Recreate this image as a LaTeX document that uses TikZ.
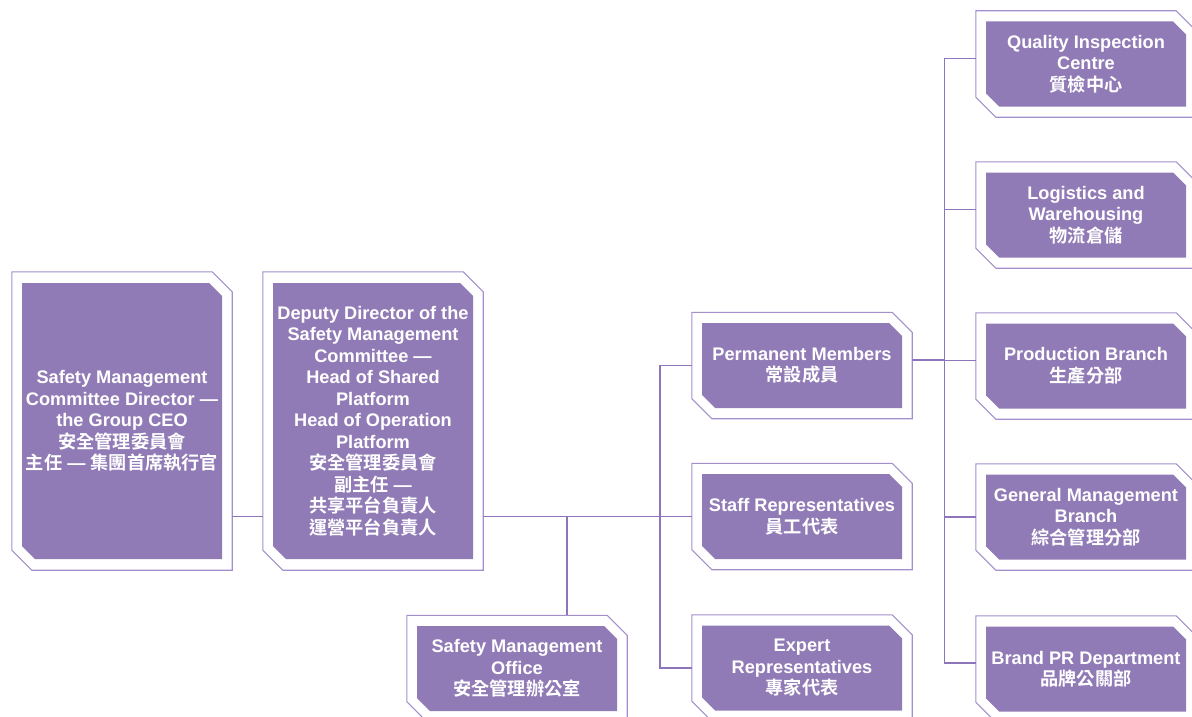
\documentclass[tikz,border=0pt]{standalone}
\usepackage{fontspec}
\setmainfont{Liberation Sans}
\newfontfamily\cjk{Noto Sans CJK TC}[BoldFont={* Bold}]
\usetikzlibrary{positioning}

\definecolor{boxfill}{HTML}{917BB6}
\definecolor{framecol}{HTML}{A28FCB}
\definecolor{linecol}{HTML}{8E74B8}

% corner-cut outline of a box, #1 = node, #2 = cut
\newcommand\cutcorners[2]{(#1.north west) -- ([xshift=-#2]#1.north east) -- ([yshift=-#2]#1.north east) -- (#1.south east) -- ([xshift=#2]#1.south west) -- ([yshift=#2]#1.south west) -- cycle}

\begin{document}
\begin{tikzpicture}[x=1pt,y=-1pt,
  unit/.style={rectangle,inner sep=0pt,minimum width=200pt,minimum height=#1,
    path picture={\fill[boxfill] \cutcorners{path picture bounding box}{13pt};},
    align=center,text=white,font=\bfseries\fontsize{18.2}{21.5}\selectfont},
  unit/.default=85pt,
  frame/.style={rectangle,inner sep=0pt,minimum width=220pt,minimum height=#1},
  frame/.default=106pt,
  outline/.style={draw=framecol,line width=1.1pt},
  link/.style={draw=linecol,line width=1.8pt}]

\useasboundingbox (0,0) rectangle (1192,717);

% committee heads
\node[unit=276pt] (dir) at (122,421) {Safety Management\\Committee Director —\\the Group CEO\\{\cjk 安全管理委員會}\\{\cjk 主任} — {\cjk 集團首席執行官}};
\node[frame=298pt] (dir-f) at (dir) {};
\node[unit=276pt] (dep) at (373,421) {Deputy Director of the\\Safety Management\\Committee —\\Head of Shared\\Platform\\Head of Operation\\Platform\\{\cjk 安全管理委員會}\\{\cjk 副主任} —\\{\cjk 共享平台負責人}\\{\cjk 運營平台負責人}};
\node[frame=298pt] (dep-f) at (dep) {};

% office and members
\node[unit] (office) at (517,668.5) {Safety Management\\Office\\{\cjk 安全管理辦公室}};
\node[frame] (office-f) at (office) {};
\node[unit] (perm) at (802,365.5) {Permanent Members\\{\cjk 常設成員}};
\node[frame] (perm-f) at (perm) {};
\node[unit] (staff) at (802,516.5) {Staff Representatives\\{\cjk 員工代表}};
\node[frame] (staff-f) at (staff) {};
\node[unit] (expert) at (802,668) {Expert\\Representatives\\{\cjk 專家代表}};
\node[frame] (expert-f) at (expert) {};

% branches
\node[unit] (qual) at (1086,64) {Quality Inspection\\Centre\\{\cjk 質檢中心}};
\node[frame] (qual-f) at (qual) {};
\node[unit] (logi) at (1086,215) {Logistics and\\Warehousing\\{\cjk 物流倉儲}};
\node[frame] (logi-f) at (logi) {};
\node[unit] (prod) at (1086,366) {Production Branch\\{\cjk 生產分部}};
\node[frame] (prod-f) at (prod) {};
\node[unit] (gen) at (1086,517) {General Management\\Branch\\{\cjk 綜合管理分部}};
\node[frame] (gen-f) at (gen) {};
\node[unit] (brand) at (1086,669) {Brand PR Department\\{\cjk 品牌公關部}};
\node[frame] (brand-f) at (brand) {};

\foreach \b in {dir,dep,office,perm,staff,expert,qual,logi,prod,gen,brand}
  \draw[outline] \cutcorners{\b-f}{20pt};

% connectors
\coordinate (bus) at (660,516.5);
\coordinate (drop) at (567,516.5);
\coordinate (rbus) at (944.5,360);

\draw[link] (dir-f.east |- staff-f) -- (dep-f.west |- staff-f);
\draw[link] (dep-f.east |- staff-f) -- (staff-f.west);
\draw[link] (drop) -- (drop |- office-f.north);
\draw[link] (perm-f.west) -| (bus) |- (expert-f.west);

\draw[link] ([yshift=5.5pt]perm-f.east) -- (rbus);
\draw[link] ([yshift=5.5pt]qual-f.west) -| (rbus) |- ([yshift=6pt]brand-f.west);
\draw[link] ([yshift=5.5pt]logi-f.west) -| (rbus);
\draw[link] ([yshift=5.5pt]prod-f.west) -| (rbus);
\draw[link] (gen-f.west) -| (rbus);

\end{tikzpicture}
\end{document}
